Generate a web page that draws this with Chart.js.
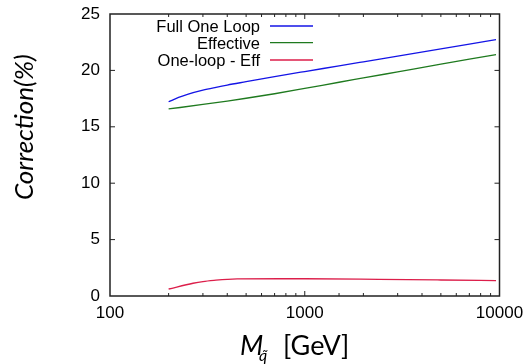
<!DOCTYPE html>
<html>
<head>
<meta charset="utf-8">
<script src="https://cdn.jsdelivr.net/npm/chart.js@4.4.0/dist/chart.umd.min.js"></script>
<style>
  html, body { margin: 0; padding: 0; background: #fff; }
  #wrap { width: 527px; height: 364px; }
</style>
</head>
<body>
<div id="wrap"><canvas id="chart" width="527" height="364"></canvas></div>
<script>
// squark mass (GeV) and corrections (%)
var massFull = [200, 225, 250, 300, 350, 400, 500, 700, 1000, 1500, 2000, 3000, 5000, 7000, 9600];
var fullOneLoop = [17.22, 17.6, 17.88, 18.25, 18.5, 18.7, 19.0, 19.45, 19.9, 20.4, 20.76, 21.27, 21.91, 22.33, 22.72];

var massEff = [200, 300, 400, 500, 700, 1000, 1500, 2000, 3000, 5000, 7000, 9600];
var effective = [16.58, 16.98, 17.28, 17.53, 17.93, 18.4, 18.95, 19.33, 19.87, 20.55, 21.0, 21.39];

var massDiff = [200, 267, 300, 350, 400, 450, 750, 1000, 2400, 5000, 9600];
var oneLoopMinusEff = [0.62, 1.13, 1.28, 1.4, 1.48, 1.52, 1.53, 1.53, 1.48, 1.42, 1.36];

var seriesNames = ['Full One Loop', 'Effective', 'One-loop - Eff'];
var seriesColors = ['#1414e6', '#1f7a1f', '#dc1e4a'];
var yTicks = [0, 5, 10, 15, 20, 25];

function toPoints(xs, ys) {
  return xs.map(function(x, i) { return { x: x, y: ys[i] }; });
}

function isDecade(v) {
  var m = Math.log10(v);
  return Math.abs(m - Math.round(m)) < 1e-6;
}

// frame with inward ticks on all four sides, gnuplot style
var framePlugin = {
  id: 'frame',
  afterDraw: function(chart) {
    var ctx = chart.ctx;
    var a = chart.chartArea;
    var xs = chart.scales.x, ys = chart.scales.y;
    ctx.save();
    ctx.strokeStyle = '#222';
    ctx.lineWidth = 1.5;
    ctx.strokeRect(a.left, a.top, a.right - a.left, a.bottom - a.top);
    ctx.lineWidth = 1;
    ctx.beginPath();
    xs.ticks.forEach(function(t) {
      var px = xs.getPixelForValue(t.value);
      if (px < a.left + 1 || px > a.right - 1) return;
      var len = isDecade(t.value) ? 5 : 3;
      ctx.moveTo(px, a.bottom); ctx.lineTo(px, a.bottom - len);
      ctx.moveTo(px, a.top); ctx.lineTo(px, a.top + len);
    });
    yTicks.forEach(function(v) {
      var py = ys.getPixelForValue(v);
      if (py > a.bottom - 1 || py < a.top + 1) return;
      ctx.moveTo(a.left, py); ctx.lineTo(a.left + 5, py);
      ctx.moveTo(a.right, py); ctx.lineTo(a.right - 5, py);
    });
    ctx.stroke();

    // legend: text right aligned, sample line on the right
    ctx.font = '16.5px "Liberation Sans", Arial, sans-serif';
    ctx.textAlign = 'right';
    ctx.textBaseline = 'alphabetic';
    var rows = [32.3, 48.6, 65.7];
    var lines = [26, 42.7, 60];
    seriesNames.forEach(function(name, i) {
      ctx.fillStyle = '#000';
      ctx.fillText(name, 260, rows[i]);
      ctx.strokeStyle = seriesColors[i];
      ctx.lineWidth = 1.3;
      ctx.beginPath();
      ctx.moveTo(270, lines[i]); ctx.lineTo(313, lines[i]);
      ctx.stroke();
    });

    // axis titles
    ctx.fillStyle = '#000';
    ctx.save();
    ctx.translate(33, 200);
    ctx.rotate(-Math.PI / 2);
    ctx.textAlign = 'left';
    ctx.font = 'italic 26px Lato, "Open Sans", sans-serif';
    ctx.fillText('Correction(%)', 0, 0);
    ctx.restore();

    ctx.textAlign = 'left';
    ctx.font = 'italic 27px Lato, "Open Sans", sans-serif';
    ctx.fillText('M', 240, 355);
    ctx.font = 'italic 16px Lato, "Open Sans", sans-serif';
    ctx.fillText('q\u0303', 259, 361);
    ctx.font = '27px Lato, "Open Sans", sans-serif';
    ctx.fillText('[GeV]', 283, 355);
    ctx.restore();
  }
};

function noPadding(scale) {
  scale.paddingTop = 0;
  scale.paddingBottom = 0;
  scale.paddingLeft = 0;
  scale.paddingRight = 0;
}

var chart = new Chart(document.getElementById('chart'), {
  type: 'line',
  data: {
    datasets: [
      { label: seriesNames[0], data: toPoints(massFull, fullOneLoop), borderColor: seriesColors[0] },
      { label: seriesNames[1], data: toPoints(massEff, effective), borderColor: seriesColors[1] },
      { label: seriesNames[2], data: toPoints(massDiff, oneLoopMinusEff), borderColor: seriesColors[2] }
    ]
  },
  options: {
    responsive: false,
    animation: false,
    layout: { padding: { top: 14, right: 27.5, bottom: 0, left: 0 } },
    elements: {
      point: { radius: 0 },
      line: { borderWidth: 1.3, cubicInterpolationMode: 'monotone', fill: false }
    },
    plugins: {
      legend: { display: false },
      tooltip: { enabled: false }
    },
    scales: {
      x: {
        type: 'logarithmic',
        min: 100,
        max: 10000,
        grid: { display: false, drawTicks: false },
        border: { display: false },
        ticks: {
          autoSkip: false,
          maxRotation: 0,
          padding: 7,
          color: '#000',
          font: { family: '"Liberation Sans", Arial, sans-serif', size: 17 },
          callback: function(v) { return isDecade(v) ? String(v) : ''; }
        },
        afterFit: function(scale) { scale.height = 68; noPadding(scale); }
      },
      y: {
        min: 0,
        max: 25,
        grid: { display: false, drawTicks: false },
        border: { display: false },
        ticks: {
          stepSize: 5,
          padding: 10,
          color: '#000',
          font: { family: '"Liberation Sans", Arial, sans-serif', size: 17 }
        },
        afterFit: function(scale) { scale.width = 110; noPadding(scale); }
      }
    }
  },
  plugins: [framePlugin]
});
</script>
</body>
</html>
